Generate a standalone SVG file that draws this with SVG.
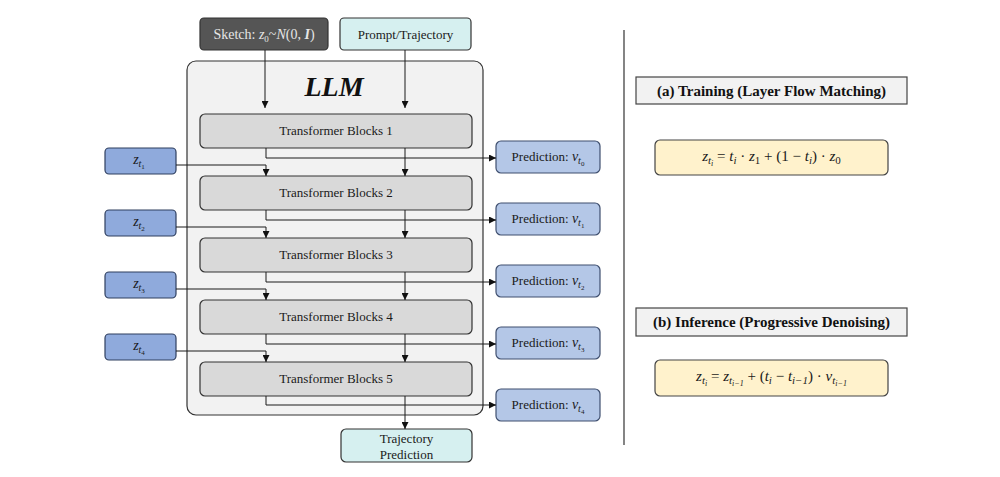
<svg xmlns="http://www.w3.org/2000/svg" width="1000" height="477" viewBox="0 0 1000 477">
<style>
.t{font-family:"Liberation Serif","Times New Roman",serif;font-size:13px;fill:#1a1a1a}
.m{font-family:"Liberation Serif","Times New Roman",serif;font-size:14px;fill:#1a1a1a;font-style:italic}
.f{font-family:"Liberation Serif","Times New Roman",serif;font-size:15px;fill:#1a1a1a;font-style:italic}
.u{font-style:normal}
.blk{fill:#d9d9d9;stroke:#333;stroke-width:1.2}
.zin{fill:#8faadc;stroke:#2f3f5f;stroke-width:1.2}
.pred{fill:#b4c7e7;stroke:#3f4f6f;stroke-width:1.2}
.cyan{fill:#d6f0f0;stroke:#333;stroke-width:1.2}
.title{fill:#f2f2f2;stroke:#444;stroke-width:1.2}
.form{fill:#fff2cc;stroke:#444;stroke-width:1.2}
.c{fill:none;stroke:#1a1a1a;stroke-width:1}
.h{font-family:"Liberation Serif","Times New Roman",serif;font-size:15px;font-weight:bold;fill:#111}
</style>
<defs>
<marker id="ah" viewBox="0 0 10 10" refX="10" refY="5" markerWidth="7" markerHeight="7" orient="auto" markerUnits="userSpaceOnUse">
<path d="M0,0 L10,5 L0,10 z" fill="#111"/>
</marker>
</defs>
<rect width="1000" height="477" fill="#fff"/>

<g id="llm">
<rect x="187" y="61" width="296" height="354" rx="9" fill="#f2f2f2" stroke="#333" stroke-width="1.2"/>
<text x="334" y="96" text-anchor="middle" font-family="Liberation Serif,serif" font-size="28" font-weight="bold" font-style="italic" fill="#111">LLM</text>
</g>

<g id="sketch">
<rect x="200" y="18" width="128" height="32" rx="4" fill="#555" stroke="#333" stroke-width="1.2"/>
<text x="264" y="39" text-anchor="middle" class="t" style="fill:#e6e6e6;font-size:14px">Sketch: <tspan font-style="italic">z</tspan><tspan font-size="9" dy="3">0</tspan><tspan dy="-3">~</tspan><tspan font-style="italic">N</tspan>(0, <tspan font-style="italic" font-weight="bold">I</tspan>)</text>
</g>

<g id="prompt">
<rect x="340" y="18" width="131" height="32" rx="4" class="cyan"/>
<text x="405.5" y="39" text-anchor="middle" class="t">Prompt/Trajectory</text>
</g>

<g id="block1"><rect x="200" y="114" width="272" height="34" rx="5" class="blk"/><text x="336" y="135" text-anchor="middle" class="t">Transformer Blocks 1</text></g>
<g id="block2"><rect x="200" y="176" width="272" height="34" rx="5" class="blk"/><text x="336" y="197" text-anchor="middle" class="t">Transformer Blocks 2</text></g>
<g id="block3"><rect x="200" y="238" width="272" height="34" rx="5" class="blk"/><text x="336" y="259" text-anchor="middle" class="t">Transformer Blocks 3</text></g>
<g id="block4"><rect x="200" y="300" width="272" height="34" rx="5" class="blk"/><text x="336" y="321" text-anchor="middle" class="t">Transformer Blocks 4</text></g>
<g id="block5"><rect x="200" y="362" width="272" height="34" rx="5" class="blk"/><text x="336" y="383" text-anchor="middle" class="t">Transformer Blocks 5</text></g>

<g id="z1"><rect x="105" y="148" width="71" height="26" rx="4" class="zin"/><text x="139" y="164" text-anchor="middle" class="m">z<tspan font-size="10" dy="3">t</tspan><tspan font-size="7" dy="2" class="u">1</tspan></text></g>
<g id="z2"><rect x="105" y="210" width="71" height="26" rx="4" class="zin"/><text x="139" y="226" text-anchor="middle" class="m">z<tspan font-size="10" dy="3">t</tspan><tspan font-size="7" dy="2" class="u">2</tspan></text></g>
<g id="z3"><rect x="105" y="272" width="71" height="26" rx="4" class="zin"/><text x="139" y="288" text-anchor="middle" class="m">z<tspan font-size="10" dy="3">t</tspan><tspan font-size="7" dy="2" class="u">3</tspan></text></g>
<g id="z4"><rect x="105" y="334" width="71" height="26" rx="4" class="zin"/><text x="139" y="350" text-anchor="middle" class="m">z<tspan font-size="10" dy="3">t</tspan><tspan font-size="7" dy="2" class="u">4</tspan></text></g>

<g id="p0"><rect x="496" y="141" width="104" height="32" rx="5" class="pred"/><text x="548" y="161" text-anchor="middle" class="t">Prediction: <tspan font-style="italic" font-size="14">v</tspan><tspan font-size="10" font-style="italic" dy="3">t</tspan><tspan font-size="7" dy="2">0</tspan></text></g>
<g id="p1"><rect x="496" y="203" width="104" height="32" rx="5" class="pred"/><text x="548" y="223" text-anchor="middle" class="t">Prediction: <tspan font-style="italic" font-size="14">v</tspan><tspan font-size="10" font-style="italic" dy="3">t</tspan><tspan font-size="7" dy="2">1</tspan></text></g>
<g id="p2"><rect x="496" y="265" width="104" height="32" rx="5" class="pred"/><text x="548" y="285" text-anchor="middle" class="t">Prediction: <tspan font-style="italic" font-size="14">v</tspan><tspan font-size="10" font-style="italic" dy="3">t</tspan><tspan font-size="7" dy="2">2</tspan></text></g>
<g id="p3"><rect x="496" y="327" width="104" height="32" rx="5" class="pred"/><text x="548" y="347" text-anchor="middle" class="t">Prediction: <tspan font-style="italic" font-size="14">v</tspan><tspan font-size="10" font-style="italic" dy="3">t</tspan><tspan font-size="7" dy="2">3</tspan></text></g>
<g id="p4"><rect x="496" y="389" width="104" height="32" rx="5" class="pred"/><text x="548" y="409" text-anchor="middle" class="t">Prediction: <tspan font-style="italic" font-size="14">v</tspan><tspan font-size="10" font-style="italic" dy="3">t</tspan><tspan font-size="7" dy="2">4</tspan></text></g>

<g id="trajpred">
<rect x="341" y="429" width="131" height="33" rx="5" class="cyan"/>
<text x="406.5" y="443" text-anchor="middle" class="t">Trajectory</text>
<text x="406.5" y="459" text-anchor="middle" class="t">Prediction</text>
</g>

<g id="connectors">
<path class="c" d="M265,50 V108" marker-end="url(#ah)"/>
<path class="c" d="M405,50 V108" marker-end="url(#ah)"/>
<path class="c" d="M405,148 V176" marker-end="url(#ah)"/>
<path class="c" d="M405,210 V238" marker-end="url(#ah)"/>
<path class="c" d="M405,272 V300" marker-end="url(#ah)"/>
<path class="c" d="M405,334 V362" marker-end="url(#ah)"/>
<path class="c" d="M405,396 V429" marker-end="url(#ah)"/>
<path class="c" d="M266,148 V158 H496" marker-end="url(#ah)"/>
<path class="c" d="M266,210 V220 H496" marker-end="url(#ah)"/>
<path class="c" d="M266,272 V282 H496" marker-end="url(#ah)"/>
<path class="c" d="M266,334 V344 H496" marker-end="url(#ah)"/>
<path class="c" d="M266,396 V405 H496" marker-end="url(#ah)"/>
<path class="c" d="M176,165 H266 V176" marker-end="url(#ah)"/>
<path class="c" d="M176,227 H266 V238" marker-end="url(#ah)"/>
<path class="c" d="M176,289 H266 V300" marker-end="url(#ah)"/>
<path class="c" d="M176,351 H266 V362" marker-end="url(#ah)"/>
</g>

<line x1="624" y1="30" x2="624" y2="445" stroke="#333" stroke-width="1.2"/>

<g id="training">
<rect x="636" y="77" width="271" height="27" class="title"/>
<text x="771.5" y="96" text-anchor="middle" class="h">(a) Training (Layer Flow Matching)</text>
</g>
<g id="formula-a">
<rect x="655" y="140" width="233" height="35" rx="5" class="form"/>
<text x="771.5" y="161" text-anchor="middle" class="f">z<tspan font-size="11" dy="3">t</tspan><tspan font-size="8" dy="2">i</tspan><tspan dy="-5" class="u"> = </tspan>t<tspan font-size="11" dy="3">i</tspan><tspan dy="-3" class="u"> · </tspan>z<tspan font-size="11" dy="3" class="u">1</tspan><tspan dy="-3" class="u"> + (1 − </tspan>t<tspan font-size="11" dy="3">i</tspan><tspan dy="-3" class="u">) · </tspan>z<tspan font-size="11" dy="3" class="u">0</tspan></text>
</g>

<g id="inference">
<rect x="636" y="308" width="271" height="28" class="title"/>
<text x="771.5" y="327" text-anchor="middle" class="h">(b) Inference (Progressive Denoising)</text>
</g>
<g id="formula-b">
<rect x="655" y="360" width="233" height="36" rx="5" class="form"/>
<text x="771.5" y="381" text-anchor="middle" class="f">z<tspan font-size="11" dy="3">t</tspan><tspan font-size="8" dy="2">i</tspan><tspan dy="-5" class="u"> = </tspan>z<tspan font-size="11" dy="3">t</tspan><tspan font-size="8" dy="2">i−1</tspan><tspan dy="-5" class="u"> + (</tspan>t<tspan font-size="11" dy="3">i</tspan><tspan dy="-3" class="u"> − </tspan>t<tspan font-size="11" dy="3">i−1</tspan><tspan dy="-3" class="u">) · </tspan>v<tspan font-size="11" dy="3">t</tspan><tspan font-size="8" dy="2">i−1</tspan></text>
</g>
</svg>
